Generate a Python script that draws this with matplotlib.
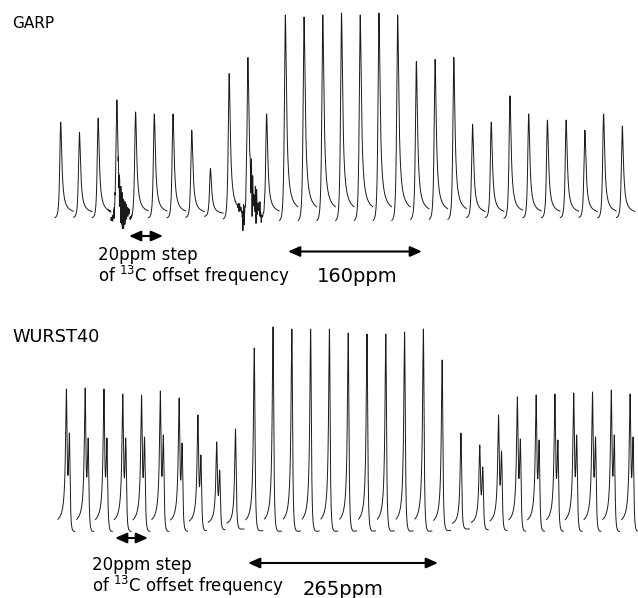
import numpy as np
import matplotlib
matplotlib.use("Agg")
import matplotlib.pyplot as plt

plt.rcParams['font.family'] = ['DejaVu Sans']

# 13C offset of each spectrum (ppm), one peak per offset
offsets = list(range(-300, 301, 20))

# observed peak heights (% of tallest), GARP decoupling
garp_height = [46, 41, 48, 57, 51, 50, 50, 42, 23, 70, 78, 50, 99, 98, 99,
               100, 99, 100, 99, 76, 77, 78, 45, 46, 59, 50, 47, 47, 42, 50, 44]

# observed peak heights (% of tallest), WURST40 decoupling
wurst_height = [69, 69.5, 69, 66.5, 66, 68, 64.5, 56, 42.5, 49, 89.5, 100, 99, 99, 99,
                97, 96.5, 96.5, 97.5, 99, 83.5, 47, 41, 56, 65, 66, 66.5, 67, 67.5, 68.5, 66.5]
# WURST40 residual splitting: which offsets show a second line, and its height
wurst_split_idx = [0, 1, 2, 3, 4, 5, 6, 7, 8, 22, 23, 24, 25, 26, 27, 28, 29, 30]
wurst_split_height = [47, 44.5, 44.5, 44.5, 45, 46, 42, 36, 28.5, 30, 38, 44, 43.5, 43.5, 46, 45, 46, 45]
wurst_split_shift = 3.2  # ppm

# ringing artefacts in GARP trace: centre ppm, width ppm, amplitude %, period ppm, drift %
garp_ringing = [(-236, 4.5, 10, 0.45, -5), (-97, 6.5, 14, 1.4, 0)]


def lineshape(x, x0, w, k):
    # lorentzian with some dispersion mixed in (phase error),
    # shifted/scaled so its apex sits at x0 with height 1
    uu = np.linspace(-2, 2, 4001)
    ff = (1 - k * uu) / (1 + uu * uu)
    u0, f0 = uu[ff.argmax()], ff.max()
    u = (x - x0) / w + u0
    return (1 - k * u) / (1 + u * u) / f0


def trace(pos, obs, split, w, k, left, right, ringing=()):
    """each offset is its own spectrum, drawn side by side (NaN between)"""
    xs, ys = [], []
    for i, (p, h) in enumerate(zip(pos, obs)):
        lines = [(p, h)]
        if i in split:
            lines.append((p + wurst_split_shift, split[i]))
        lp = np.array([l[0] for l in lines])
        lh = np.array([l[1] for l in lines])
        m = lineshape(lp[:, None], lp[None, :], w, k)
        amp = np.linalg.solve(m, lh)
        x = np.linspace(p - left, p + right, 2500)
        y = (amp[None, :] * lineshape(x[:, None], lp[None, :], w, k)).sum(axis=1)
        notch = 1 - np.exp(-0.5 * ((x - p) / 1.5) ** 2)  # keep the apex clean
        for c, s, a, per, drift in ringing:
            env = np.exp(-0.5 * ((x - c) / s) ** 2) * notch
            wig = np.sin(2 * np.pi * x / per) * (0.6 + 0.4 * np.sin(2 * np.pi * x / (3.3 * per)))
            y = y + env * (a * wig + drift)
        xs += [x, [np.nan]]
        ys += [y, [np.nan]]
    return np.concatenate(xs), np.concatenate(ys)


fig = plt.figure(figsize=(6.38, 5.98), dpi=100)

# ---- GARP ----
ax1 = fig.add_axes([0, 298 / 598, 1, 300 / 598])
x1, y1 = trace(offsets, garp_height, {}, 1.3, -0.35, 6.3, 13.4, garp_ringing)
ax1.plot(x1, y1, color='#1a1a1a', lw=0.7)
ax1.set_xlim((0 - 341.5) / 0.936, (638 - 341.5) / 0.936)
ax1.set_ylim((215 - 300) / 2.02, 215 / 2.02)
ax1.axis('off')

# ---- WURST40 ----
ax2 = fig.add_axes([0, 0, 1, 298 / 598])
split = dict(zip(wurst_split_idx, wurst_split_height))
x2, y2 = trace(offsets, wurst_height, split, 0.95, 0.3, 9.0, 9.0)
ax2.plot(x2, y2, color='#1a1a1a', lw=0.7)
ax2.set_xlim((0 - 348.2) / 0.9395, (638 - 348.2) / 0.9395)
ax2.set_ylim((227 - 298) / 2.0, 227 / 2.0)
ax2.axis('off')

# ---- labels and arrows (figure pixel coordinates) ----
ann = fig.add_axes([0, 0, 1, 1])
ann.set_xlim(0, 638)
ann.set_ylim(598, 0)
ann.axis('off')
ann.patch.set_alpha(0)

arrow = dict(arrowstyle='<|-|>,head_length=0.5,head_width=0.22', color='black',
             lw=1.5, mutation_scale=14, shrinkA=0, shrinkB=0)

ann.text(12, 28, 'GARP', fontsize=11, va='baseline')
ann.annotate('', xy=(163, 236), xytext=(129, 236), arrowprops=arrow)
ann.text(98, 260.5, '20ppm step', fontsize=12, va='baseline')
ann.text(98, 281.5, r'of $^{13}$C offset frequency', fontsize=12, va='baseline')
ann.annotate('', xy=(422, 251.5), xytext=(288, 251.5), arrowprops=arrow)
ann.text(317, 282, '160ppm', fontsize=14, va='baseline')

ann.text(12.5, 342.5, 'WURST40', fontsize=12.8, va='baseline')
ann.annotate('', xy=(148, 538), xytext=(115, 538), arrowprops=arrow)
ann.text(92, 570, '20ppm step', fontsize=12, va='baseline')
ann.text(92, 592, r'of $^{13}$C offset frequency', fontsize=12, va='baseline')
ann.annotate('', xy=(438, 563), xytext=(248, 563), arrowprops=arrow)
ann.text(303, 595, '265ppm', fontsize=14, va='baseline')

fig.savefig('out.png', dpi=100)
